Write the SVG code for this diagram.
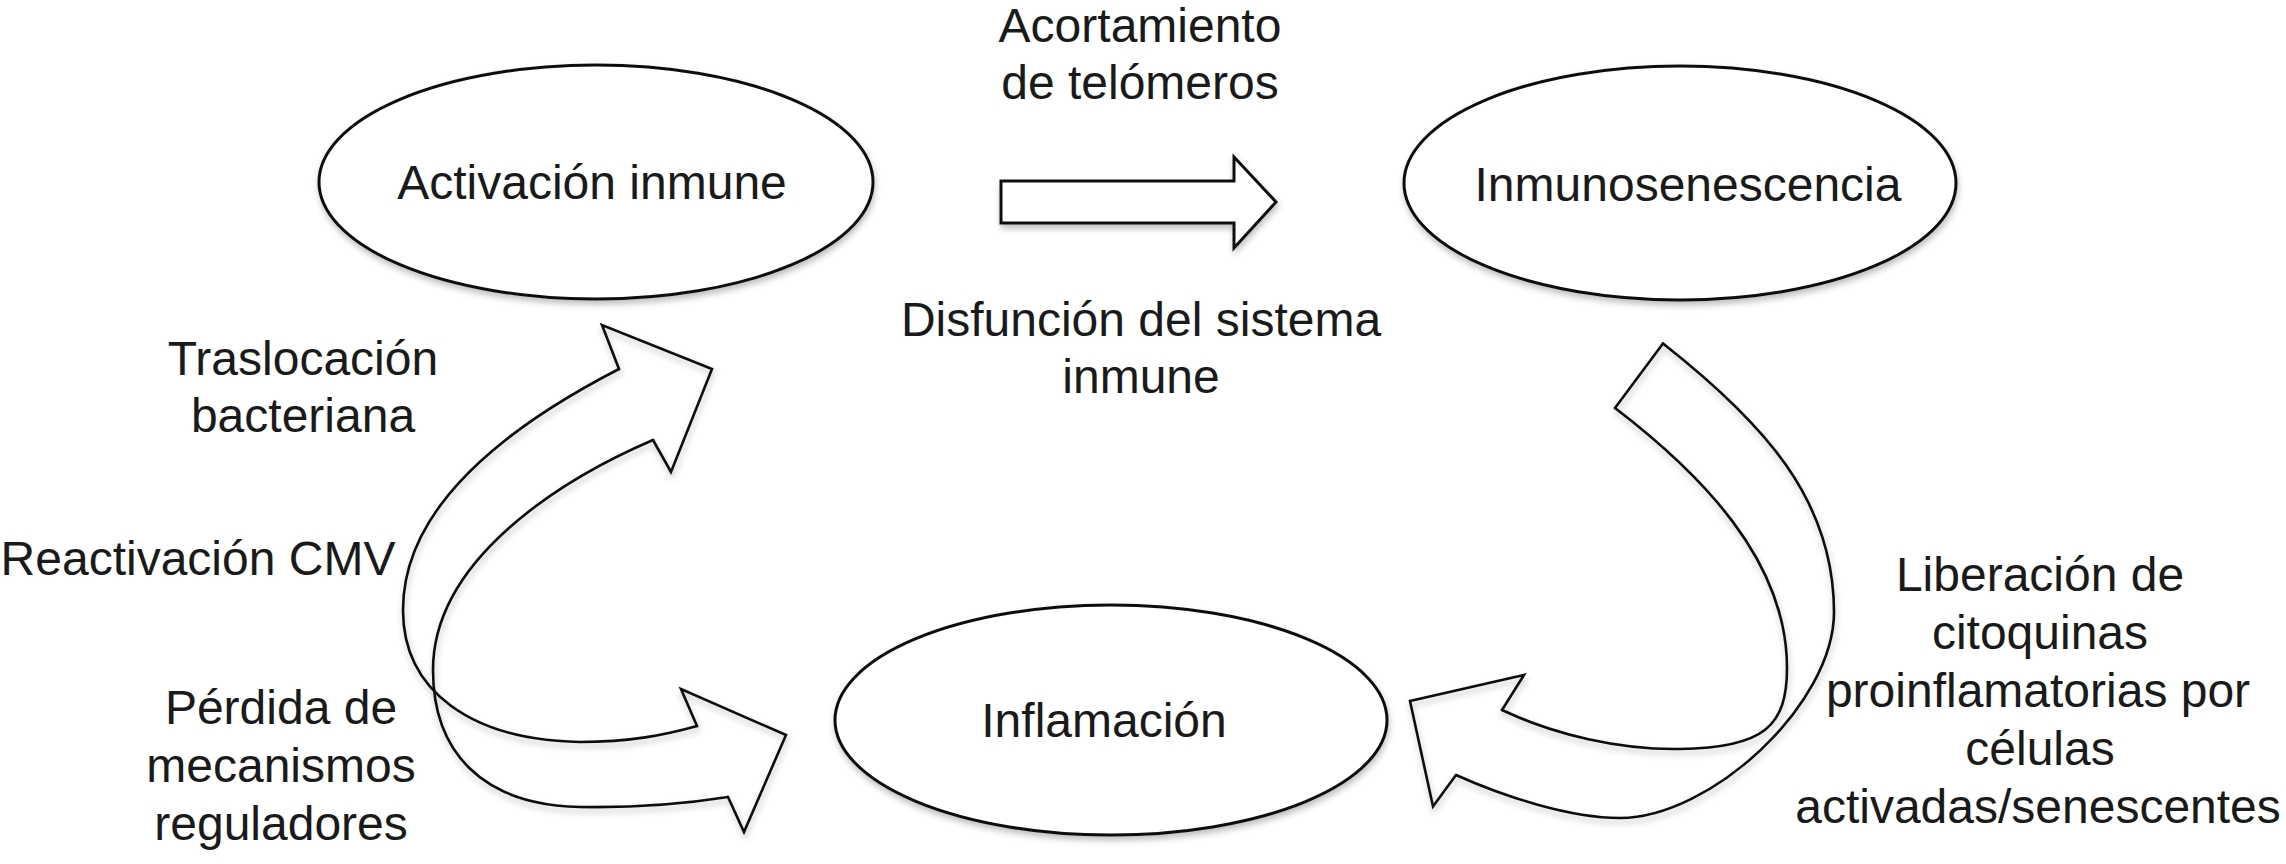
<svg xmlns="http://www.w3.org/2000/svg" width="2286" height="864" viewBox="0 0 2286 864">
<defs>
<filter id="sh" x="-10%" y="-10%" width="120%" height="130%">
<feDropShadow dx="1" dy="4" stdDeviation="3" flood-color="#000" flood-opacity="0.25"/>
</filter>
</defs>
<style>
.lbl{font-family:"Liberation Sans",Arial,Helvetica,sans-serif;font-size:48px;fill:#1a1a1a;text-anchor:middle}
.node ellipse{fill:#fff;stroke:#111;stroke-width:3;filter:url(#sh)}
.arw{fill:none;stroke:#111;stroke-width:2.6;stroke-linejoin:miter;stroke-linecap:round}
.blk{fill:#fff;stroke:#111;stroke-width:3;stroke-linejoin:miter}
</style>
<rect width="2286" height="864" fill="#fff"/>

<g id="connectors">
  <g id="arrow-telomeros" filter="url(#sh)">
    <polygon class="blk" points="1001,181 1234,181 1234,157 1276,202 1234,248 1234,223 1001,223"/>
  </g>
  <g id="arrow-left" filter="url(#sh)">
    <path class="arw" d="M619,369 C520,420 403,500 403,610 C403,690 470,740 580,742 C630,742 665,735 697,726"/>
    <path class="arw" d="M653,440 C560,480 433,560 433,670 C433,750 480,805 580,807 C640,808 690,803 728,797"/>
    <path class="arw" d="M619,369 L602,325 L712,369 L671,472 L653,440"/>
    <path class="arw" d="M697,726 L681,689 L786,735 L744,832 L728,797"/>
  </g>
  <g id="arrow-right" filter="url(#sh)">
    <path class="arw" d="M1615,408 L1663,343.5"/>
    <path class="arw" d="M1663,343.5 C1764,423 1834,500 1834,612 C1834,705 1710,818 1620,818 C1570,818 1505,797 1456,775"/>
    <path class="arw" d="M1615,408 C1700,473 1787,560 1787,668 C1787,725 1765,748 1680,749 C1620,750 1555,735 1502,710"/>
    <path class="arw" d="M1502,710 L1524,675 L1410,701 L1433,806.5 L1456,775"/>
  </g>
</g>

<g id="node-activacion" class="node">
  <ellipse cx="596" cy="182" rx="277" ry="117"/>
  <text class="lbl" x="592" y="199">Activación inmune</text>
</g>
<g id="node-inmunosenescencia" class="node">
  <ellipse cx="1680" cy="183" rx="276" ry="117"/>
  <text class="lbl" x="1688" y="201">Inmunosenescencia</text>
</g>
<g id="node-inflamacion" class="node">
  <ellipse cx="1111" cy="720" rx="276" ry="115"/>
  <text class="lbl" x="1104" y="737">Inflamación</text>
</g>

<g id="labels">
  <text class="lbl" x="1140" y="42">Acortamiento</text>
  <text class="lbl" x="1140" y="99">de telómeros</text>
  <text class="lbl" x="1141" y="336">Disfunción del sistema</text>
  <text class="lbl" x="1141" y="393">inmune</text>
  <text class="lbl" x="303" y="375">Traslocación</text>
  <text class="lbl" x="303" y="432">bacteriana</text>
  <text class="lbl" x="198" y="575">Reactivación CMV</text>
  <text class="lbl" x="281" y="724">Pérdida de</text>
  <text class="lbl" x="281" y="782">mecanismos</text>
  <text class="lbl" x="281" y="840">reguladores</text>
  <text class="lbl" x="2040" y="591">Liberación de</text>
  <text class="lbl" x="2040" y="649">citoquinas</text>
  <text class="lbl" x="2038" y="707">proinflamatorias por</text>
  <text class="lbl" x="2040" y="765">células</text>
  <text class="lbl" x="2038" y="823">activadas/senescentes</text>
</g>
</svg>
